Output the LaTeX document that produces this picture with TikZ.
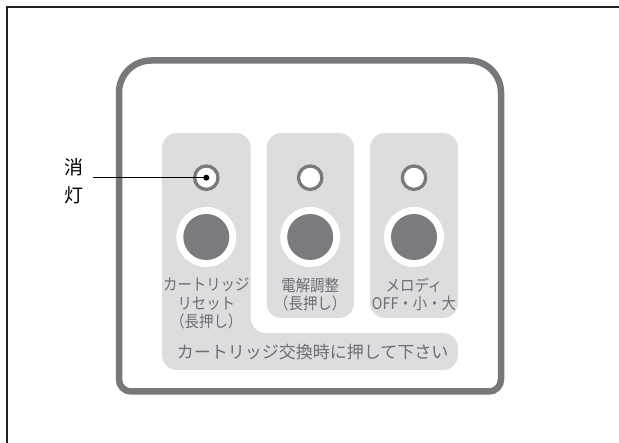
\documentclass[tikz,border=0pt]{standalone}
\usepackage{fontspec}
\newfontfamily\jp{Noto Sans CJK JP}
\newfontfamily\jpc[FakeStretch=0.9]{Noto Sans CJK JP}
\definecolor{frameline}{HTML}{231F20}
\definecolor{outerc}{HTML}{77787B}
\definecolor{panelc}{HTML}{DCDDDF}
\definecolor{btnc}{HTML}{7A7B7F}
\definecolor{ringc}{HTML}{7A7A7C}
\definecolor{txtc}{HTML}{6D6E71}
\tikzset{
  panel/.style={fill=panelc, rounded corners=15pt},
  ledring/.style={circle, draw=ringc, line width=3.3pt, fill=white, minimum size=23.4pt, inner sep=0pt},
  btnring/.style={circle, fill=white, minimum size=60pt, inner sep=0pt},
  btncore/.style={circle, fill=btnc, minimum size=46pt, inner sep=0pt},
  ptext/.style={text=txtc, font=\jpc\fontsize{16pt}{18.5pt}\selectfont, align=center, inner sep=0pt},
  btext/.style={text=txtc, font=\jp\fontsize{17pt}{20pt}\selectfont, inner sep=0pt},
  lbl/.style={text=black, font=\jp\fontsize{19pt}{20pt}\selectfont, inner sep=0pt},
  dotc/.style={circle, fill=black, minimum size=6pt, inner sep=0pt},
}
\begin{document}
\begin{tikzpicture}[x=1pt,y=1pt]
\useasboundingbox (0,0) rectangle (619,-443);
% outer frame
\draw[frameline, line width=2pt] (7,-444) -- (7,-7) -- (620,-7);
% outer rounded housing
\draw[outerc, line width=6.5pt]
  (119,-379.5) -- (119,-92.5) arc[start angle=180, end angle=90, radius=32]
  -- (469,-60.5) arc[start angle=90, end angle=0, radius=32]
  -- (501,-379.5) arc[start angle=0, end angle=-90, radius=12]
  -- (131,-391.5) arc[start angle=270, end angle=180, radius=12] -- cycle;
% panels
\fill[panel] (162,-133) -- (250.7,-133) -- (250.7,-333) -- (458,-333) -- (458,-370) -- (162,-370) -- cycle;
\fill[panel] (266.5,-133) rectangle (354,-318);
\fill[panel] (370,-133) rectangle (458,-318);
% LEDs
\node[ledring] (led1) at (206.3,-177.7) {};
\node[ledring] (led2) at (310.2,-177.7) {};
\node[ledring] (led3) at (414,-177.7) {};
% buttons
\node[btnring] (b1r) at (206.3,-237) {};
\node[btncore] (b1) at (206.3,-237) {};
\node[btnring] (b2r) at (310.2,-237) {};
\node[btncore] (b2) at (310.2,-237) {};
\node[btnring] (b3r) at (414,-237) {};
\node[btncore] (b3) at (414,-237) {};
% texts
\node[ptext] (t1) at (206.3,-303.5) {カートリッジ\\リセット\\（長押し）};
\node[ptext] (t2) at (310.2,-294.5) {電解調整\\（長押し）};
\node[ptext] (t3) at (414,-294.5) {メロディ\\OFF・小・大};
\node[btext] (t4) at (312.5,-352) {カートリッジ交換時に押して下さい};
% label
\node[lbl] (l1) at (73.5,-167) {消};
\node[lbl] (l2) at (73.5,-195) {灯};
\coordinate (lstart) at (93.3,-177.7);
\draw[black, line width=1pt] (lstart) -- (led1.center);
\node[dotc] (d1) at (led1.center) {};
\end{tikzpicture}
\end{document}
